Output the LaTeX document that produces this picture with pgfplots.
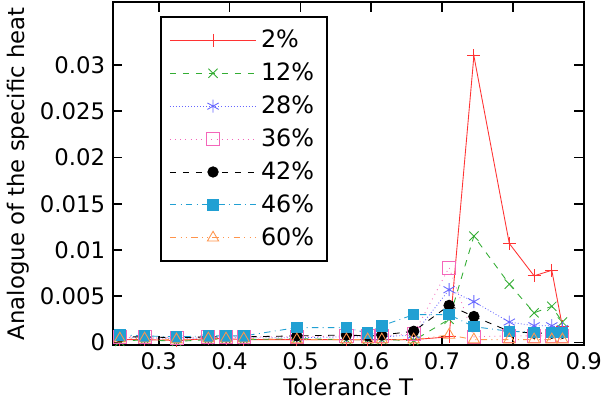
\documentclass[border=0pt]{standalone}
\usepackage{pgfplots}
\pgfplotsset{compat=1.18}
\usepackage{fontspec}
\setmainfont{DejaVu Sans}
\begin{document}
\begin{tikzpicture}
\begin{axis}[scale only axis, width=217pt, height=158pt,
 xmin=0.235, xmax=0.9, ymin=-0.0003, ymax=0.0368,
 xtick={0.3,0.4,0.5,0.6,0.7,0.8,0.9},
 ytick={0,0.005,0.01,0.015,0.02,0.025,0.03},
 yticklabels={0,0.005,0.01,0.015,0.02,0.025,0.03},
 scaled y ticks=false,
 xticklabel style={/pgf/number format/fixed},
 /pgf/number format/assume math mode=true,
 tick align=inside, tick style={black, thick}, axis line style={thick},
 font=\fontsize{10.5}{12}\selectfont,
 xlabel={Tolerance T}, ylabel={Analogue of the specific heat},
 ylabel style={yshift=-2pt}, xlabel style={yshift=3pt},
 legend style={at={(0.1,0.96)}, anchor=north west, font=\fontsize{11}{13}\selectfont, draw=black, thick, row sep=1.5pt, inner sep=4pt},
 legend image code/.code={\draw[mark repeat=2,mark phase=2] plot coordinates {(0cm,0cm)(0.7cm,0cm)(1.4cm,0cm)};},
 legend cell align=left,
 every axis plot/.append style={thin, mark size=3pt, mark options={solid}}]
\addplot[red!80!white, mark=+] coordinates {(0.245,0.0003)(0.28,0.0003)(0.325,0.0002)(0.37,0.0004)(0.395,0.0004)(0.42,0.0003)(0.495,0.0003)(0.565,0.0003)(0.595,0.0003)(0.615,0.0003)(0.66,0.0003)(0.71,0.0006)(0.745,0.031)(0.795,0.0107)(0.83,0.0072)(0.855,0.0078)(0.87,0.0017)};
\addlegendentry{2\%}
\addplot[green!60!black!80!white, dashed, mark=x] coordinates {(0.245,0.0001)(0.28,0.0003)(0.325,0.0001)(0.37,0.0003)(0.395,0.0004)(0.42,0.0003)(0.495,0.0004)(0.565,0.0003)(0.595,0.0003)(0.615,0.0003)(0.66,0.0002)(0.71,0.0025)(0.745,0.0115)(0.795,0.0063)(0.83,0.0032)(0.855,0.0039)(0.87,0.0022)};
\addlegendentry{12\%}
\addplot[blue!60!white, densely dotted, mark=asterisk] coordinates {(0.245,0.0005)(0.28,0.0005)(0.325,0.0004)(0.37,0.0005)(0.395,0.0005)(0.42,0.0005)(0.495,0.0005)(0.565,0.0006)(0.595,0.0006)(0.615,0.0006)(0.66,0.0008)(0.71,0.0057)(0.745,0.0044)(0.795,0.0022)(0.83,0.0018)(0.855,0.0018)(0.87,0.0015)};
\addlegendentry{28\%}
\addplot[magenta!60!white, dotted, mark=square] coordinates {(0.245,0.0006)(0.28,0.0006)(0.325,0.0005)(0.37,0.0006)(0.395,0.0006)(0.42,0.0006)(0.495,0.0006)(0.565,0.0007)(0.595,0.0007)(0.615,0.0007)(0.66,0.0009)(0.71,0.0081)(0.745,0.0006)(0.795,0.0007)(0.83,0.0007)(0.855,0.0007)(0.87,0.0007)};
\addlegendentry{36\%}
\addplot[black, dashed, mark=*, mark size=2.4pt] coordinates {(0.245,0.0006)(0.28,0.0006)(0.325,0.0005)(0.37,0.0006)(0.395,0.0006)(0.42,0.0006)(0.495,0.0007)(0.565,0.0008)(0.595,0.0007)(0.615,0.0008)(0.66,0.0012)(0.71,0.0040)(0.745,0.0028)(0.795,0.0012)(0.83,0.0010)(0.855,0.0010)(0.87,0.0010)};
\addlegendentry{42\%}
\addplot[cyan!70!teal, dashdotted, mark=square*, mark size=2.4pt] coordinates {(0.245,0.0008)(0.28,0.0007)(0.325,0.0006)(0.37,0.0007)(0.395,0.0007)(0.42,0.0007)(0.495,0.0016)(0.565,0.0016)(0.595,0.0010)(0.615,0.0018)(0.66,0.0030)(0.71,0.0030)(0.745,0.0017)(0.795,0.0012)(0.83,0.0011)(0.855,0.0011)(0.87,0.0011)};
\addlegendentry{46\%}
\addplot[orange!80!red!70!white, dash dot dot, mark=triangle] coordinates {(0.245,0.0004)(0.28,0.0004)(0.325,0.0003)(0.37,0.0004)(0.395,0.0004)(0.42,0.0004)(0.495,0.0003)(0.565,0.0003)(0.595,0.0003)(0.615,0.0003)(0.66,0.0003)(0.71,0.0008)(0.745,0.0003)(0.795,0.0003)(0.83,0.0003)(0.855,0.0003)(0.87,0.0003)};
\addlegendentry{60\%}
\end{axis}
\end{tikzpicture}
\end{document}
